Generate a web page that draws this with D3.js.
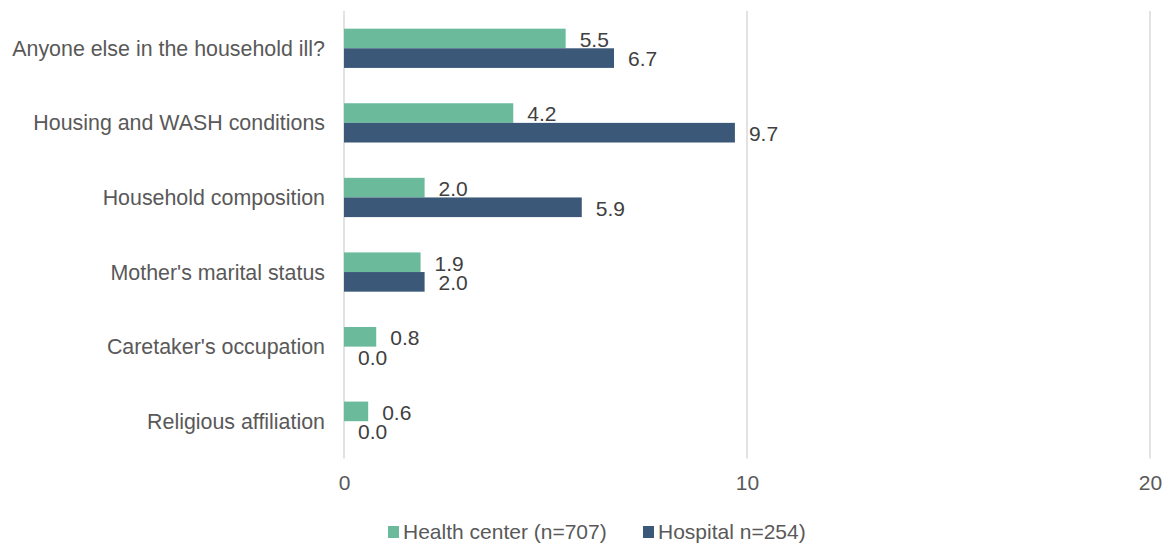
<!DOCTYPE html>
<html>
<head>
<meta charset="utf-8">
<script src="https://cdn.jsdelivr.net/npm/d3@7"></script>
<style>
  html, body { margin: 0; padding: 0; background: #fff; }
  svg { display: block; font-family: "Liberation Sans", Arial, sans-serif; }
</style>
</head>
<body>
<svg id="chart" width="1168" height="546"></svg>
<script>
// Factors discussed, percent of consultations by facility type
const categories = [
  "Anyone else in the household ill?",
  "Housing and WASH conditions",
  "Household composition",
  "Mother's marital status",
  "Caretaker's occupation",
  "Religious affiliation"
];
const seriesNames = ["Health center (n=707)", "Hospital n=254)"];
const healthCenter = [5.5, 4.2, 2.0, 1.9, 0.8, 0.6];
const hospital = [6.7, 9.7, 5.9, 2.0, 0.0, 0.0];
const xTicks = [0, 10, 20];
const colors = ["#6bba9c", "#3b5878"];

const seriesValues = [healthCenter, hospital];
const rows = categories.map((c, i) => ({
  category: c,
  values: seriesNames.map((s, j) => ({ series: s, idx: j, value: seriesValues[j][i] }))
}));

const svg = d3.select("#chart");

const x = d3.scaleLinear().domain([0, 20]).range([344, 1150]);
const y0 = d3.scaleBand().domain(categories).range([11, 458.5]).padding(0);
const y1 = d3.scaleBand().domain(seriesNames).range([0, y0.bandwidth()])
  .paddingInner(0).paddingOuter(0.9);

// Vertical gridlines
svg.append("g")
  .selectAll("line")
  .data(xTicks)
  .join("line")
  .attr("x1", d => x(d)).attr("x2", d => x(d))
  .attr("y1", 11).attr("y2", 458.5)
  .attr("stroke", "#d9d9d9")
  .attr("stroke-width", 1.5);

// X axis tick labels
const xAxis = d3.axisBottom(x).tickValues(xTicks).tickSize(0).tickPadding(0);
const gx = svg.append("g").attr("transform", "translate(0,474)").call(xAxis);
gx.select(".domain").remove();
gx.selectAll("text")
  .attr("dy", null)
  .attr("y", 16)
  .attr("fill", "#595959")
  .style("font-size", "21px")
  .style("font-family", "'Liberation Sans', Arial, sans-serif");

// Category labels
const yAxis = d3.axisLeft(y0).tickSize(0).tickPadding(0);
const gy = svg.append("g").attr("transform", "translate(325,0)").call(yAxis);
gy.select(".domain").remove();
gy.selectAll("text")
  .attr("fill", "#595959")
  .attr("dy", "0.35em")
  .style("font-size", "21.4px")
  .style("font-family", "'Liberation Sans', Arial, sans-serif");

// Bars
const groups = svg.append("g")
  .selectAll("g")
  .data(rows)
  .join("g")
  .attr("transform", d => `translate(0,${y0(d.category)})`);

groups.selectAll("rect")
  .data(d => d.values)
  .join("rect")
  .attr("x", x(0))
  .attr("y", d => y1(d.series))
  .attr("width", d => x(d.value) - x(0))
  .attr("height", y1.bandwidth())
  .attr("fill", d => colors[d.idx]);

// Value labels
groups.selectAll("text")
  .data(d => d.values)
  .join("text")
  .attr("x", d => x(d.value) + 14)
  .attr("y", d => y1(d.series) + y1.bandwidth() / 2 + 1)
  .attr("dy", "0.35em")
  .attr("fill", "#404040")
  .style("font-size", "21px")
  .text(d => d.value.toFixed(1));

// Legend
const legendItems = [
  { name: seriesNames[0], color: colors[0], x: 388 },
  { name: seriesNames[1], color: colors[1], x: 643 }
];
const legend = svg.append("g")
  .selectAll("g")
  .data(legendItems)
  .join("g")
  .attr("transform", d => `translate(${d.x},0)`);
legend.append("rect")
  .attr("x", 0).attr("y", 526)
  .attr("width", 11).attr("height", 12)
  .attr("fill", d => d.color);
legend.append("text")
  .attr("x", 15).attr("y", 539)
  .attr("fill", "#595959")
  .style("font-size", "21px")
  .text(d => d.name);
</script>
</body>
</html>
